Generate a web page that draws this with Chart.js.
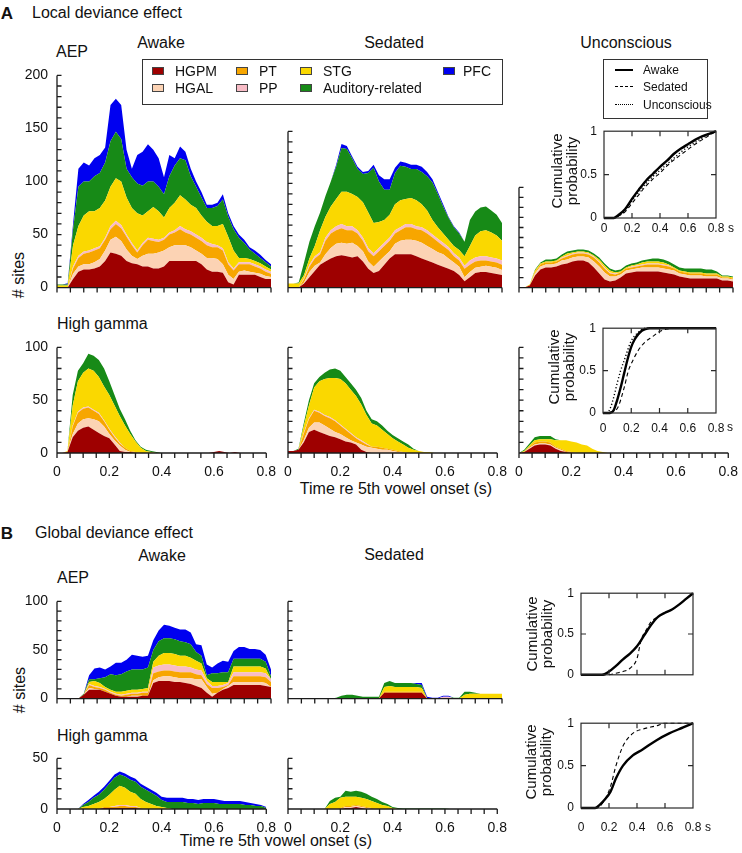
<!DOCTYPE html>
<html><head><meta charset="utf-8">
<script src="https://cdn.jsdelivr.net/npm/chart.js@4.4.1/dist/chart.umd.min.js"></script>
<style>
html,body{margin:0;padding:0;background:#fff}
body{width:742px;height:853px;position:relative;overflow:hidden;font-family:"Liberation Sans",Arial,Helvetica,sans-serif;color:#111}
canvas{position:absolute}
.t{position:absolute;white-space:nowrap;line-height:1}
.c{transform:translate(-50%,-50%)}
.l{transform:translate(0,-50%)}
.r{transform:translate(-50%,-50%) rotate(-90deg);text-align:center}
.box{position:absolute;border:1.3px solid #333;box-sizing:border-box}
.sw{position:absolute;width:12px;height:8px;border:1px solid #444;box-sizing:border-box}
</style></head><body>
<div class="t c" style="left:7px;top:13px;font-size:17px;font-weight:bold">A</div>
<div class="t l" style="left:32px;top:13px;font-size:16px">Local deviance effect</div>
<div class="t c" style="left:161px;top:43px;font-size:16px">Awake</div>
<div class="t c" style="left:394px;top:43px;font-size:16px">Sedated</div>
<div class="t c" style="left:626px;top:43px;font-size:16px">Unconscious</div>
<div class="t l" style="left:56px;top:52px;font-size:16px">AEP</div>
<div class="t r" style="left:19px;top:275px;font-size:16px"># sites</div>
<div class="t l" style="left:57px;top:324px;font-size:16px">High gamma</div>
<div class="t c" style="left:396px;top:489px;font-size:16px">Time re 5th vowel onset (s)</div>
<div class="t c" style="left:7px;top:533px;font-size:17px;font-weight:bold">B</div>
<div class="t l" style="left:35px;top:533px;font-size:16px">Global deviance effect</div>
<div class="t c" style="left:162px;top:556px;font-size:16px">Awake</div>
<div class="t c" style="left:394px;top:555px;font-size:16px">Sedated</div>
<div class="t l" style="left:57px;top:578px;font-size:16px">AEP</div>
<div class="t r" style="left:20px;top:690px;font-size:16px"># sites</div>
<div class="t l" style="left:57px;top:736px;font-size:16px">High gamma</div>
<div class="t c" style="left:276px;top:841px;font-size:16px">Time re 5th vowel onset (s)</div>
<div class="box" style="left:142px;top:59px;width:361px;height:46px"></div>
<div class="box" style="left:603px;top:59px;width:105px;height:60px"></div>
<script>
// ---------- time axis (s) ----------
const timeS = [0,0.02,0.04,0.06,0.08,0.1,0.12,0.14,0.16,0.18,0.2,0.22,0.24,0.26,0.28,0.3,0.32,0.34,0.36,0.38,0.4,0.42,0.44,0.46,0.48,0.5,0.52,0.54,0.56,0.58,0.6,0.62,0.64,0.66,0.68,0.7,0.72,0.74,0.76,0.78,0.8];
const regionNames = ['HGPM','HGAL','PT','PP','STG','Auditory-related','PFC'];

// ---------- A: local deviance, AEP, awake ----------
const lAepAwake_HGPM = [0,0,0,8,15,17,17,18,20,25,33,32,30,25,23,22,20,20,18,18,20,25,25,25,25,25,25,22,17,15,15,14,5,3,12,12,12,12,10,8,8];
const lAepAwake_HGAL = [0,0,0,5,5,5,5,6,7,10,12,16,14,11,7,5,10,12,14,15,15,13,15,15,15,13,10,10,11,13,12,8,7,5,3,4,3,2,3,3,2];
const lAepAwake_PT   = [0,0,0,5,8,10,11,11,10,10,10,12,12,12,10,6,10,13,12,10,10,12,12,15,12,12,12,12,12,10,11,13,10,8,7,6,7,6,5,4,3];
const lAepAwake_PP   = [0,0,0,2,2,2,2,2,2,2,3,3,3,2,2,2,2,2,2,2,2,2,2,3,3,3,3,3,3,3,2,2,2,2,2,2,2,2,2,2,2];
const lAepAwake_STG  = [2,2,2,20,28,34,37,35,36,35,37,40,41,35,33,35,26,25,30,27,19,23,26,29,28,25,25,21,19,17,18,23,24,17,4,4,3,3,3,3,2];
const lAepAwake_AUD  = [1,1,1,15,37,32,28,33,33,36,43,44,40,27,29,28,28,28,24,23,22,30,35,35,37,27,20,17,13,17,19,23,19,20,19,14,9,7,5,4,3];
const lAepAwake_PFC  = [0,0,1,5,17,18,15,17,17,14,34,31,32,18,8,27,32,35,30,27,16,20,7,11,8,7,5,5,3,3,3,5,3,3,3,3,2,3,3,2,2];
// ---------- A: local, AEP, sedated ----------
const lAepSed_HGPM = [0,0,0,4,10,16,22,25,28,30,31,30,29,30,25,18,14,16,22,28,32,32,32,32,30,28,26,24,22,20,18,16,12,6,10,14,15,15,14,13,12];
const lAepSed_HGAL = [0,0,0,1,5,5,2,7,10,12,12,12,14,10,10,7,6,9,8,7,10,13,14,14,15,15,14,13,12,12,10,8,8,4,5,5,5,6,6,6,5];
const lAepSed_PT   = [0,0,0,3,5,7,8,13,14,13,14,13,12,12,10,10,10,10,10,10,10,10,12,12,11,12,12,11,10,8,8,6,6,8,7,6,6,5,5,5,5];
const lAepSed_PP   = [0,0,0,1,2,2,2,3,3,4,4,4,4,3,3,3,3,3,3,3,3,3,3,3,3,3,3,3,3,3,3,3,3,3,4,4,4,4,4,4,4];
const lAepSed_STG  = [4,4,4,3,6,10,21,20,23,26,31,33,31,32,34,34,29,25,22,22,25,26,24,25,25,22,19,14,11,9,7,7,7,9,14,21,24,25,24,22,19];
const lAepSed_AUD  = [0,0,1,12,16,19,17,20,24,31,42,41,34,27,27,38,53,39,29,24,30,33,31,28,30,31,33,36,32,26,21,18,16,14,25,23,23,23,21,20,17];
const lAepSed_PFC  = [0,0,0,0,0,0,0,0,0,2,4,3,2,2,2,2,3,6,10,10,5,4,4,4,4,5,4,3,2,2,1,1,1,0,0,0,0,0,0,0,0];
// ---------- A: local, AEP, unconscious ----------
const lAepUnc_HGPM = [0,0,2,12,18,20,20,21,23,24,26,27,27,25,20,14,8,6,7,10,14,15,16,16,16,16,16,15,14,13,11,10,9,9,9,9,9,9,7,7,6];
const lAepUnc_HGAL = [0,0,0,2,3,3,3,3,4,4,4,4,4,5,6,7,7,5,4,3,3,3,3,4,4,4,4,4,4,4,3,3,3,3,3,2,2,2,2,2,2];
const lAepUnc_PT   = [0,0,0,1,2,2,2,2,2,3,3,3,3,3,4,4,4,3,2,2,2,2,2,2,3,3,3,3,3,2,2,2,2,2,2,2,2,2,1,1,1];
const lAepUnc_PP   = [0,0,0,0,0,0,0,0,1,1,1,1,1,1,1,1,1,1,1,0,0,1,1,1,1,1,1,1,1,0,0,0,0,0,0,0,0,0,0,0,0];
const lAepUnc_STG  = [0,0,1,2,1,1,1,1,1,2,1,1,1,1,1,2,2,2,1,1,1,1,1,2,2,2,2,2,1,1,1,1,1,1,1,1,1,1,1,1,1];
const lAepUnc_AUD  = [0,0,0,1,1,2,2,2,2,2,2,2,2,2,2,2,2,2,2,2,2,2,2,2,2,3,3,3,3,3,3,3,4,4,4,4,4,2,1,1,1];
const lAepUnc_PFC  = [0,0,0,0,0,0,0,0,0,0,0,0,0,0,0,0,0,0,0,0,0,0,0,0,0,0,0,0,0,0,0,0,0,0,0,0,0,0,0,0,0];
// ---------- A: local, high gamma, awake ----------
const lHgAwake_HGPM = [0,0,1,15,21,24,25,22,19,16,14,8,2,1,1,0,0,0,0,0,0,0,0,0,0,0,0,0,0,0,1,2,1,0,1,0,0,0,0,0,0];
const lHgAwake_HGAL = [0,0,0,3,7,8,8,10,11,9,4,4,5,2,0,0,0,0,0,0,0,0,0,0,0,0,0,0,0,0,0,0,0,0,0,0,0,0,0,0,0];
const lHgAwake_PT   = [0,0,0,7,10,10,10,8,7,5,4,3,2,2,1,1,0,0,0,0,0,0,0,0,0,0,0,0,0,0,0,0,0,0,0,0,0,0,0,0,0];
const lHgAwake_PP   = [0,0,0,1,1,1,1,1,1,1,1,1,1,0,0,0,0,0,0,0,0,0,0,0,0,0,0,0,0,0,0,0,0,0,0,0,0,0,0,0,0];
const lHgAwake_STG  = [0,0,1,19,29,33,36,37,34,32,32,29,25,21,16,10,5,2,1,0,0,0,0,0,0,0,0,0,0,0,0,0,0,0,0,0,0,0,0,0,0];
const lHgAwake_AUD  = [0,0,0,10,10,9,14,14,16,17,13,10,7,6,3,1,1,1,1,1,0,0,0,0,0,0,0,0,0,0,0,0,0,0,0,0,0,0,0,0,0];
const lHgAwake_PFC  = [0,0,0,0,0,0,0,0,0,0,0,0,0,0,0,0,0,0,0,0,0,0,0,0,0,0,0,0,0,0,0,0,0,0,0,0,0,0,0,0,0];
// ---------- A: local, high gamma, sedated ----------
const lHgSed_HGPM = [2,2,3,10,20,22,20,18,16,15,13,11,10,8,3,1,0,0,0,0,0,0,0,0,0,0,0,0,0,0,0,0,0,0,0,0,0,0,0,0,0];
const lHgSed_HGAL = [0,0,0,2,4,7,9,8,7,5,5,4,2,2,5,5,5,4,3,3,2,1,1,0,0,0,0,0,0,0,0,0,0,0,0,0,0,0,0,0,0];
const lHgSed_PT   = [0,0,0,6,8,11,9,9,10,10,8,7,6,4,3,2,1,2,2,1,1,1,0,0,0,0,0,0,0,0,0,0,0,0,0,0,0,0,0,0,0];
const lHgSed_PP   = [0,0,0,1,1,1,1,1,1,1,1,1,1,1,1,1,0,0,0,0,0,0,0,0,0,0,0,0,0,0,0,0,0,0,0,0,0,0,0,0,0];
const lHgSed_STG  = [0,0,0,6,12,21,29,34,37,40,43,43,41,39,34,27,22,20,17,14,11,9,7,5,3,2,1,1,0,0,0,0,0,0,0,0,0,0,0,0,0];
const lHgSed_AUD  = [0,0,1,3,5,4,4,6,8,9,8,6,6,6,6,4,4,4,4,3,3,3,3,3,1,0,0,0,0,0,0,0,0,0,0,0,0,0,0,0,0];
const lHgSed_PFC  = [0,0,0,0,0,0,0,0,0,0,0,0,0,0,0,0,0,0,0,0,0,0,0,0,0,0,0,0,0,0,0,0,0,0,0,0,0,0,0,0,0];
// ---------- A: local, high gamma, unconscious ----------
const lHgUnc_HGPM = [0,1,4,7,8,8,7,4,2,1,0,0,0,0,0,0,0,0,0,0,0,0,0,0,0,0,0,0,0,0,0,0,0,0,0,0,0,0,0,0,0];
const lHgUnc_HGAL = [0,0,1,1,1,1,1,1,1,0,0,0,0,0,0,0,0,0,0,0,0,0,0,0,0,0,0,0,0,0,0,0,0,0,0,0,0,0,0,0,0];
const lHgUnc_PT   = [0,0,1,2,2,2,2,1,1,1,1,0,0,0,0,0,0,0,0,0,0,0,0,0,0,0,0,0,0,0,0,0,0,0,0,0,0,0,0,0,0];
const lHgUnc_PP   = [0,0,0,0,0,0,0,0,0,0,0,0,0,0,0,0,0,0,0,0,0,0,0,0,0,0,0,0,0,0,0,0,0,0,0,0,0,0,0,0,0];
const lHgUnc_STG  = [0,1,1,2,2,2,3,6,8,10,10,10,8,7,4,2,1,0,0,0,0,0,0,0,0,0,0,0,0,0,0,0,0,0,0,0,0,0,0,0,0];
const lHgUnc_AUD  = [0,1,2,3,3,3,3,1,0,0,0,0,0,0,0,0,0,0,0,0,0,0,0,0,0,0,0,0,0,0,0,0,0,0,0,0,0,0,0,0,0];
const lHgUnc_PFC  = [0,0,0,0,0,0,0,0,0,0,0,0,0,0,0,0,0,0,0,0,0,0,0,0,0,0,0,0,0,0,0,0,0,0,0,0,0,0,0,0,0];
// ---------- B: global deviance, AEP, awake ----------
const gAepAwake_HGPM = [0,0,0,0,0,4,9,9,9,7,5,3,2,2,2,2,3,3,16,18,18,18,17,17,16,15,13,11,6,2,6,9,11,14,14,14,14,14,14,13,12];
const gAepAwake_HGAL = [0,0,0,0,0,0,2,1,0,0,0,0,0,0,1,1,0,0,3,4,5,5,5,4,5,6,7,9,6,3,0,1,2,3,3,3,3,3,3,3,0];
const gAepAwake_PT   = [0,0,0,0,0,0,3,2,2,2,1,1,1,2,2,2,3,3,7,6,6,6,6,6,6,6,5,4,3,6,5,2,1,6,6,6,6,6,6,6,5];
const gAepAwake_PP   = [0,0,0,0,0,0,1,1,1,1,1,1,1,1,1,1,1,1,6,6,6,6,6,6,6,5,5,5,3,2,2,2,2,4,4,4,4,4,4,4,3];
const gAepAwake_STG  = [0,0,0,0,0,0,2,5,4,2,2,2,3,3,3,3,3,4,6,10,12,12,12,11,11,10,9,7,3,4,4,3,1,6,6,6,6,6,6,5,0];
const gAepAwake_AUD  = [0,0,0,0,0,1,3,2,5,10,16,17,18,20,21,21,20,21,12,15,15,15,15,15,14,14,9,8,3,9,9,10,10,8,8,8,8,8,8,7,3];
const gAepAwake_PFC  = [0,0,0,0,0,0,4,11,11,8,8,13,12,12,15,14,13,12,10,11,14,13,12,12,13,12,8,11,11,6,10,12,11,8,12,12,10,10,9,7,7];
// ---------- B: global, AEP, sedated ----------
const gAepSed_HGPM = [0,0,0,0,0,0,0,0,0,0,0,0,0,0,0,0,0,0,6,6,6,6,6,6,6,6,0,0,0,0,0,0,0,0,0,0,0,0,0,0,0];
const gAepSed_HGAL = [0,0,0,0,0,0,0,0,0,0,0,0,0,0,0,0,0,0,0,0,0,0,0,0,0,0,0,0,0,0,0,0,0,0,0,0,0,0,0,0,0];
const gAepSed_PT   = [0,0,0,0,0,0,0,0,0,0,0,0,0,0,0,0,0,0,1,1,1,1,1,1,1,1,0,0,0,0,0,0,0,0,0,0,0,0,0,0,0];
const gAepSed_PP   = [0,0,0,0,0,0,0,0,0,0,0,0,0,0,0,0,0,0,0,0,0,0,0,0,0,0,0,0,0,2,2,0,0,0,0,0,0,0,0,0,0];
const gAepSed_STG  = [0,0,0,0,0,0,0,0,0,0,0,0,0,0,0,0,0,0,5,6,5,5,5,5,5,4,0,0,0,0,0,0,0,4,5,5,5,5,5,5,5];
const gAepSed_AUD  = [0,0,0,0,0,0,0,0,0,1,3,4,4,3,2,2,2,2,4,5,4,4,4,4,3,3,0,0,0,0,0,1,1,3,2,1,0,0,0,0,0];
const gAepSed_PFC  = [0,0,0,0,0,0,0,0,0,0,0,0,0,0,0,0,0,0,0,0,0,0,0,0,1,2,2,1,1,1,1,0,0,0,0,0,0,0,0,0,0];
// ---------- B: global, high gamma, awake ----------
const gHgAwake_HGPM = [0,0,0,0,0,0,0,0,0,1,1,1,1,1,1,1,0,0,0,0,0,0,0,0,0,0,0,0,0,0,0,0,0,0,0,0,0,0,0,0,0];
const gHgAwake_HGAL = [0,0,0,0,0,0,0,0,0,0,0,0,0,0,0,0,0,0,0,0,0,0,0,0,0,0,0,0,0,0,0,0,0,0,0,0,0,0,0,0,0];
const gHgAwake_PT   = [0,0,0,0,0,0,0,0,0,1,1,1,2,2,1,1,1,0,0,0,0,0,0,0,0,0,0,0,0,0,0,0,0,0,0,0,0,0,0,0,0];
const gHgAwake_PP   = [0,0,0,0,0,0,0,0,0,0,0,1,1,1,1,1,0,0,0,0,0,0,0,0,0,0,0,0,0,0,0,0,0,0,0,0,0,0,0,0,0];
const gHgAwake_STG  = [0,0,0,0,0,2,3,5,7,8,12,16,19,17,14,12,9,7,5,3,2,1,0,0,0,0,0,0,0,0,0,0,0,0,0,0,0,0,0,0,0];
const gHgAwake_AUD  = [0,0,0,0,0,2,4,6,7,9,11,12,11,11,12,12,12,12,11,10,7,6,7,7,7,6,6,5,6,6,6,5,5,5,5,5,4,4,3,3,1];
const gHgAwake_PFC  = [0,0,0,0,0,1,2,2,3,3,3,3,3,3,3,3,3,3,3,3,3,4,4,4,4,4,4,4,4,4,4,4,3,3,3,3,3,2,2,1,1];
// ---------- B: global, high gamma, sedated ----------
const gHgSed_HGPM = [0,0,0,0,0,0,0,0,0,0,0,1,1,2,1,0,0,0,0,0,0,0,0,0,0,0,0,0,0,0,0,0,0,0,0,0,0,0,0,0,0];
const gHgSed_HGAL = [0,0,0,0,0,0,0,0,0,0,0,1,1,1,1,1,0,0,0,0,0,0,0,0,0,0,0,0,0,0,0,0,0,0,0,0,0,0,0,0,0];
const gHgSed_PT   = [0,0,0,0,0,0,0,0,0,0,1,1,1,1,1,1,1,0,0,0,0,0,0,0,0,0,0,0,0,0,0,0,0,0,0,0,0,0,0,0,0];
const gHgSed_PP   = [0,0,0,0,0,0,0,0,0,0,0,0,0,0,0,0,0,0,0,0,0,0,0,0,0,0,0,0,0,0,0,0,0,0,0,0,0,0,0,0,0];
const gHgSed_STG  = [0,0,0,0,0,0,0,0,5,7,10,9,9,8,8,8,7,6,4,3,1,0,0,0,0,0,0,0,0,0,0,0,0,0,0,0,0,0,0,0,0];
const gHgSed_AUD  = [0,0,0,0,0,0,0,0,3,4,1,6,5,6,6,5,4,4,3,2,1,1,0.5,0.5,0.5,0.5,0.5,0.5,0.5,0.5,0.5,0,0,0,0,0,0,0,0,0,0];
const gHgSed_PFC  = [0,0,0,0,0,0,0,0,0,0,0,0,0,0,0,0,0,0,0,0,0,0,0,0,0,0,0,0,0,0,0,0,0,0,0,0,0,0,0,0,0];

// ---------- cumulative probability curves (latency s, probability) ----------
const cdfLocalAep_awake_t = [0,0.07,0.1,0.15,0.2,0.25,0.3,0.35,0.4,0.45,0.5,0.55,0.6,0.65,0.7,0.75,0.8];
const cdfLocalAep_awake_p = [0,0,0.03,0.1,0.22,0.33,0.43,0.51,0.59,0.66,0.74,0.8,0.85,0.9,0.94,0.97,1];
const cdfLocalAep_sed_t   = [0,0.08,0.1,0.15,0.2,0.25,0.3,0.35,0.4,0.45,0.5,0.55,0.6,0.65,0.7,0.75,0.8];
const cdfLocalAep_sed_p   = [0,0,0.02,0.07,0.17,0.27,0.37,0.45,0.52,0.6,0.67,0.73,0.79,0.85,0.9,0.95,1];
const cdfLocalAep_unc_t   = [0,0.05,0.1,0.15,0.2,0.25,0.3,0.35,0.4,0.45,0.5,0.55,0.6,0.65,0.7,0.75,0.8];
const cdfLocalAep_unc_p   = [0,0,0.02,0.08,0.2,0.3,0.4,0.48,0.55,0.62,0.69,0.76,0.82,0.87,0.92,0.96,1];
const cdfLocalHg_awake_t  = [0,0.05,0.075,0.1,0.125,0.15,0.175,0.2,0.225,0.25,0.275,0.3,0.33,0.8];
const cdfLocalHg_awake_p  = [0,0,0.03,0.15,0.3,0.47,0.64,0.78,0.87,0.93,0.97,0.99,1,1];
const cdfLocalHg_sed_t    = [0,0.05,0.1,0.15,0.18,0.2,0.25,0.3,0.35,0.4,0.45,0.5,0.8];
const cdfLocalHg_sed_p    = [0,0.01,0.05,0.3,0.5,0.58,0.74,0.84,0.9,0.96,0.99,1,1];
const cdfLocalHg_unc_t    = [0,0.03,0.05,0.075,0.1,0.125,0.15,0.2,0.25,0.3,0.8];
const cdfLocalHg_unc_p    = [0,0,0.05,0.18,0.35,0.5,0.62,0.85,0.95,1,1];
const cdfGlobalAep_awake_t = [0,0.15,0.2,0.25,0.3,0.35,0.4,0.45,0.5,0.55,0.6,0.65,0.7,0.75,0.8];
const cdfGlobalAep_awake_p = [0,0,0.04,0.11,0.19,0.26,0.35,0.48,0.61,0.71,0.76,0.8,0.86,0.93,1];
const cdfGlobalAep_sed_t   = [0,0.2,0.25,0.3,0.35,0.4,0.43,0.47,0.5,0.55,0.6,0.65,0.7,0.75,0.8];
const cdfGlobalAep_sed_p   = [0,0,0.02,0.04,0.08,0.2,0.43,0.56,0.65,0.71,0.76,0.8,0.86,0.93,1];
const cdfGlobalHg_awake_t  = [0,0.1,0.135,0.17,0.21,0.25,0.3,0.37,0.44,0.54,0.63,0.73,0.8];
const cdfGlobalHg_awake_p  = [0,0,0.04,0.1,0.19,0.35,0.5,0.62,0.69,0.8,0.88,0.95,1];
const cdfGlobalHg_sed_t    = [0,0.11,0.16,0.21,0.25,0.3,0.37,0.44,0.54,0.6,0.8];
const cdfGlobalHg_sed_p    = [0,0,0.07,0.25,0.5,0.73,0.88,0.93,0.97,1,1];

// ---------- styles ----------
const regionColors = ['#9e0000','#fcd3b4','#f7a600','#f8bcc6','#fad800','#178a17','#0000f0'];
const tickFont = {family:'"Liberation Sans", Arial, sans-serif', size:14};
function fontAvail(name){const c=document.createElement('canvas').getContext('2d');const s='0.5 Cumulative probability';c.font='40px monospace';const a=c.measureText(s).width;c.font='40px "'+name+'", monospace';return Math.abs(c.measureText(s).width-a)>0.5;}
const narrow = fontAvail('Liberation Sans Narrow');
const cdfFont = narrow ? {family:'"Liberation Sans Narrow"', size:14} : {family:'"Liberation Sans", Arial, sans-serif', size:12};
const cdfCss = narrow ? 'font-family:"Liberation Sans Narrow";font-size:14px' : 'font-size:12px';

Chart.defaults.font.family = '"Liberation Sans", Arial, Helvetica, sans-serif';
Chart.defaults.color = '#111';

function makeCanvas(left, top, w, h){
  const c=document.createElement('canvas'); c.width=w; c.height=h;
  c.style.left=left+'px'; c.style.top=top+'px'; c.style.width=w+'px'; c.style.height=h+'px';
  document.body.appendChild(c); return c;
}
function addText(txt, x, y, cls, css){
  const d=document.createElement('div'); d.className='t '+cls; d.textContent=txt;
  d.style.cssText='left:'+x+'px;top:'+y+'px;'+(css||''); document.body.appendChild(d); return d;
}
const near=(v,s)=>Math.abs(v/s-Math.round(v/s))<1e-6;
const fmt=v=>String(Math.round(v*10)/10);

const axesPlugin={id:'stackAxes', afterDraw(chart){
  const {ctx,chartArea:a,scales:{x,y}}=chart;
  ctx.save(); ctx.strokeStyle='#1b1b1b'; ctx.lineWidth=1.3;
  ctx.beginPath();
  const top=y.getPixelForValue(y.max);
  ctx.moveTo(a.left, top); ctx.lineTo(a.left, a.bottom); ctx.lineTo(a.right, a.bottom);
  y.ticks.forEach(t=>{const p=y.getPixelForValue(t.value); ctx.moveTo(a.left,p); ctx.lineTo(a.left+4.5,p);});
  x.ticks.forEach(t=>{const p=x.getPixelForValue(t.value); ctx.moveTo(p,a.bottom); ctx.lineTo(p,a.bottom+5);});
  ctx.stroke(); ctx.restore();
}};

function stackChart(series, ymax, pos, yLab, xLab){
  const L=50,T=12,R=16,B=xLab?34:10;
  const cv=makeCanvas(pos[0]-L,pos[1]-T,L+pos[2]+R,T+pos[3]+B);
  return new Chart(cv,{type:'line',
    data:{labels:timeS,datasets:series.map((d,i)=>({label:regionNames[i],data:d,backgroundColor:regionColors[i],borderColor:'rgba(0,0,0,0)',borderWidth:0,pointRadius:0,pointHoverRadius:0,tension:0,fill:i===0?'origin':'-1'}))},
    options:{responsive:false,animation:false,devicePixelRatio:1,events:[],
      layout:{padding:{left:0,top:T,right:R,bottom:0}},
      plugins:{legend:{display:false},tooltip:{enabled:false}},
      scales:{
        x:{type:'linear',min:0,max:0.8,grid:{display:false,drawTicks:false},border:{display:false},
           ticks:{stepSize:0.05,autoSkip:false,maxRotation:0,minRotation:0,padding:11,font:tickFont,color:'#111',
             callback:v=>xLab&&near(v,0.2)?fmt(v):''},
           afterFit:s=>{s.height=B;}},
        y:{stacked:true,min:0,max:ymax,grid:{display:false,drawTicks:false},border:{display:false},
           ticks:{stepSize:10,autoSkip:false,padding:9,font:tickFont,color:'#111',
             callback:v=>yLab&&near(v,50)?String(v):''},
           afterFit:s=>{s.width=L;}}
      }},
    plugins:[axesPlugin]});
}

const cdfPlugin={id:'cdfBox',afterDraw(chart){
  const {ctx,chartArea:a,scales:{x,y}}=chart;
  ctx.save(); ctx.strokeStyle='#2a2a2a'; ctx.lineWidth=1.2;
  ctx.strokeRect(a.left,a.top,a.right-a.left,a.bottom-a.top);
  ctx.beginPath();
  x.ticks.forEach(t=>{ if(t.value>0.01&&t.value<0.79){const p=x.getPixelForValue(t.value); ctx.moveTo(p,a.bottom);ctx.lineTo(p,a.bottom-5);ctx.moveTo(p,a.top);ctx.lineTo(p,a.top+5);} });
  y.ticks.forEach(t=>{ if(t.value>0.01&&t.value<0.99){const p=y.getPixelForValue(t.value); ctx.moveTo(a.left,p);ctx.lineTo(a.left+5,p);ctx.moveTo(a.right,p);ctx.lineTo(a.right-5,p);} });
  ctx.stroke(); ctx.restore();
}};
const lineStyle = {awake:{w:2.4,dash:[]}, sed:{w:1.1,dash:[4,3]}, unc:{w:1.4,dash:[1.2,2.2]}};
function cdfChart(curves, pos, showX, xPad){
  const L=40,T=10,R=30,B=showX?32:10;
  const cv=makeCanvas(pos[0]-L,pos[1]-T,L+pos[2]+R,T+pos[3]+B);
  return new Chart(cv,{type:'line',
    data:{datasets:curves.map(c=>({label:c.name,data:c.t.map((x,i)=>({x:x,y:c.p[i]})),borderColor:'#000',borderWidth:lineStyle[c.k].w,borderDash:lineStyle[c.k].dash,pointRadius:0,fill:false,cubicInterpolationMode:'monotone',clip:3}))},
    options:{responsive:false,animation:false,devicePixelRatio:1,events:[],
      layout:{padding:{left:0,top:T,right:R,bottom:0}},
      plugins:{legend:{display:false},tooltip:{enabled:false}},
      scales:{
        x:{type:'linear',min:0,max:0.8,grid:{display:false,drawTicks:false},border:{display:false},
           ticks:{stepSize:0.2,autoSkip:false,maxRotation:0,minRotation:0,padding:xPad,font:cdfFont,color:'#111',display:showX,callback:v=>fmt(v)},
           afterFit:s=>{s.height=B;}},
        y:{min:0,max:1,grid:{display:false,drawTicks:false},border:{display:false},
           ticks:{stepSize:0.5,padding:7,font:cdfFont,color:'#111',callback:v=>fmt(v)},
           afterFit:s=>{s.width=L;}}
      }},
    plugins:[cdfPlugin]});
}

// ---------- stacked area panels ----------
stackChart([lAepAwake_HGPM,lAepAwake_HGAL,lAepAwake_PT,lAepAwake_PP,lAepAwake_STG,lAepAwake_AUD,lAepAwake_PFC],200,[57,70,214,225],true,false);
stackChart([lAepSed_HGPM,lAepSed_HGAL,lAepSed_PT,lAepSed_PP,lAepSed_STG,lAepSed_AUD,lAepSed_PFC],150,[288,126,214,169],false,false);
stackChart([lAepUnc_HGPM,lAepUnc_HGAL,lAepUnc_PT,lAepUnc_PP,lAepUnc_STG,lAepUnc_AUD,lAepUnc_PFC],100,[519,182,214,113],false,false);
stackChart([lHgAwake_HGPM,lHgAwake_HGAL,lHgAwake_PT,lHgAwake_PP,lHgAwake_STG,lHgAwake_AUD,lHgAwake_PFC],100,[57,342,214,111],true,true);
stackChart([lHgSed_HGPM,lHgSed_HGAL,lHgSed_PT,lHgSed_PP,lHgSed_STG,lHgSed_AUD,lHgSed_PFC],100,[288,342,214,111],false,true);
stackChart([lHgUnc_HGPM,lHgUnc_HGAL,lHgUnc_PT,lHgUnc_PP,lHgUnc_STG,lHgUnc_AUD,lHgUnc_PFC],100,[519,342,214,111],false,true);
stackChart([gAepAwake_HGPM,gAepAwake_HGAL,gAepAwake_PT,gAepAwake_PP,gAepAwake_STG,gAepAwake_AUD,gAepAwake_PFC],100,[57,596,214,110],true,false);
stackChart([gAepSed_HGPM,gAepSed_HGAL,gAepSed_PT,gAepSed_PP,gAepSed_STG,gAepSed_AUD,gAepSed_PFC],100,[288,596,214,110],false,false);
stackChart([gHgAwake_HGPM,gHgAwake_HGAL,gHgAwake_PT,gHgAwake_PP,gHgAwake_STG,gHgAwake_AUD,gHgAwake_PFC],50,[57,753,214,56],true,true);
stackChart([gHgSed_HGPM,gHgSed_HGAL,gHgSed_PT,gHgSed_PP,gHgSed_STG,gHgSed_AUD,gHgSed_PFC],50,[288,753,214,56],false,true);

// ---------- cumulative probability insets ----------
cdfChart([{name:'Awake',k:'awake',t:cdfLocalAep_awake_t,p:cdfLocalAep_awake_p},{name:'Sedated',k:'sed',t:cdfLocalAep_sed_t,p:cdfLocalAep_sed_p},{name:'Unconscious',k:'unc',t:cdfLocalAep_unc_t,p:cdfLocalAep_unc_p}],[604,127,112,91],true,3);
cdfChart([{name:'Awake',k:'awake',t:cdfLocalHg_awake_t,p:cdfLocalHg_awake_p},{name:'Sedated',k:'sed',t:cdfLocalHg_sed_t,p:cdfLocalHg_sed_p},{name:'Unconscious',k:'unc',t:cdfLocalHg_unc_t,p:cdfLocalHg_unc_p}],[603,324,113,89],true,8);
cdfChart([{name:'Awake',k:'awake',t:cdfGlobalAep_awake_t,p:cdfGlobalAep_awake_p},{name:'Sedated',k:'sed',t:cdfGlobalAep_sed_t,p:cdfGlobalAep_sed_p}],[581,589,112,90],false,3);
cdfChart([{name:'Awake',k:'awake',t:cdfGlobalHg_awake_t,p:cdfGlobalHg_awake_p},{name:'Sedated',k:'sed',t:cdfGlobalHg_sed_t,p:cdfGlobalHg_sed_p}],[581,719,112,89],true,12);

// axis titles of insets
[[563.5,171],[561,367],[538.5,634],[537.5,762]].forEach(p=>{
  const d=addText('',p[0],p[1],'r','font-size:15px;line-height:15px');
  d.innerHTML='Cumulative<br>probability';
});
addText('s',728,228,'l',cdfCss);
addText('s',727,427,'l',cdfCss);
addText('s',705,827,'l',cdfCss);

// ---------- region legend ----------
const legendSlots = [[152,71],[152,88],[236,71],[236,88],[300,71],[300,88],[443,71]];
regionNames.forEach((n,i)=>{
  const [x,y]=legendSlots[i];
  const s=document.createElement('div'); s.className='sw';
  s.style.cssText='left:'+x+'px;top:'+(y-4)+'px;background:'+regionColors[i];
  document.body.appendChild(s);
  addText(n,x+(i===6?20:23),y,'l','font-size:14px');
});
// ---------- state legend (line styles) ----------
[['Awake','solid',2.4,70],['Sedated','dashed',1.1,87],['Unconscious','dotted',1.4,105]].forEach(r=>{
  const ln=document.createElement('div');
  ln.style.cssText='position:absolute;left:615px;width:18px;top:'+(r[3]-r[2]/2)+'px;border-top:'+r[2]+'px '+r[1]+' #000';
  document.body.appendChild(ln);
  addText(r[0],643,r[3],'l',cdfCss);
});
</script>
</body></html>
